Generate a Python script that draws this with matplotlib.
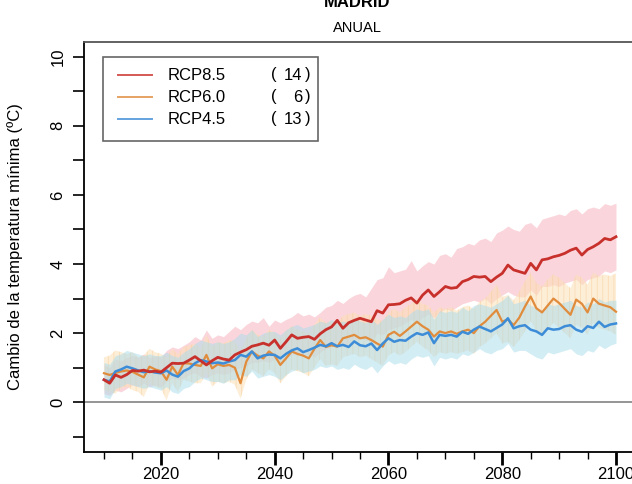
import numpy as np
import matplotlib
matplotlib.use("Agg")
from matplotlib import pyplot as plt
from matplotlib.lines import Line2D
from matplotlib.patches import Rectangle

plt.rcParams['font.family'] = ['Liberation Sans', 'DejaVu Sans']
plt.rcParams['hatch.linewidth'] = 0.6

years = list(range(2010, 2101))

rcp85 = [0.65, 0.55, 0.79, 0.72, 0.80, 0.92, 0.90, 0.93, 0.88, 0.90,
         0.87, 1.00, 1.13, 1.12, 1.13, 1.22, 1.32, 1.20, 1.08, 1.20,
         1.30, 1.25, 1.22, 1.37, 1.45, 1.52, 1.62, 1.66, 1.71, 1.65,
         1.80, 1.56, 1.75, 1.95, 1.85, 1.88, 1.90, 1.82, 1.98, 2.10,
         2.18, 2.37, 2.14, 2.30, 2.37, 2.43, 2.38, 2.33, 2.65, 2.58,
         2.82, 2.83, 2.85, 2.95, 3.02, 2.87, 3.10, 3.25, 3.06, 3.20,
         3.35, 3.30, 3.32, 3.49, 3.55, 3.64, 3.62, 3.64, 3.49, 3.62,
         3.73, 3.97, 3.83, 3.78, 3.73, 4.02, 3.83, 4.12, 4.15, 4.21,
         4.25, 4.31, 4.40, 4.46, 4.26, 4.42, 4.50, 4.60, 4.74, 4.70,
         4.79]
rcp85_hi = [1.10, 1.00, 1.25, 1.20, 1.30, 1.35, 1.30, 1.40, 1.30, 1.35,
            1.30, 1.50, 1.60, 1.55, 1.65, 1.75, 1.90, 1.80, 2.09, 1.85,
            1.95, 1.90, 2.05, 2.20, 2.10, 2.25, 2.35, 2.30, 2.45, 2.20,
            2.38, 2.30, 2.40, 2.47, 2.60, 2.50, 2.55, 2.47, 2.60, 2.75,
            2.80, 2.95, 2.86, 3.00, 3.10, 3.15, 3.05, 3.30, 3.55, 3.60,
            3.92, 3.75, 3.80, 3.85, 4.10, 3.80, 3.95, 4.07, 4.00, 4.25,
            4.30, 4.20, 4.45, 4.50, 4.60, 4.55, 4.70, 4.75, 4.65, 4.90,
            4.98, 5.10, 5.00, 4.95, 5.15, 5.20, 5.05, 5.30, 5.35, 5.40,
            5.45, 5.40, 5.55, 5.60, 5.45, 5.60, 5.65, 5.60, 5.75, 5.70,
            5.76]
rcp85_lo = [0.25, 0.20, 0.35, 0.30, 0.40, 0.50, 0.45, 0.55, 0.45, 0.50,
            0.45, 0.60, 0.70, 0.65, 0.70, 0.80, 0.85, 0.75, 0.70, 0.80,
            0.85, 0.80, 0.85, 0.95, 1.00, 1.05, 1.15, 1.15, 1.20, 1.15,
            1.25, 1.10, 1.25, 1.40, 1.35, 1.35, 1.40, 1.30, 1.45, 1.55,
            1.60, 1.75, 1.60, 1.70, 1.80, 1.85, 1.80, 1.75, 2.00, 1.95,
            2.10, 2.15, 2.20, 2.30, 2.40, 2.30, 2.45, 2.55, 2.45, 2.60,
            2.70, 2.65, 2.75, 2.85, 2.90, 2.95, 2.90, 3.00, 2.85, 3.00,
            3.10, 3.20, 3.10, 3.05, 3.05, 3.25, 3.10, 3.35, 3.35, 3.40,
            3.35, 3.45, 3.50, 3.55, 3.40, 3.55, 3.60, 3.65, 3.80, 3.75,
            3.83]

rcp60 = [0.84, 0.79, 0.85, 0.89, 0.92, 0.88, 0.80, 0.72, 1.03, 0.95,
         0.90, 0.65, 1.03, 0.79, 1.13, 1.12, 1.08, 1.05, 1.37, 0.98,
         1.10, 1.05, 1.08, 1.00, 0.55, 1.17, 1.47, 1.35, 1.27, 1.47,
         1.35, 1.08, 1.27, 1.47, 1.40, 1.35, 1.27, 1.55, 1.80, 1.60,
         1.65, 1.61, 1.85, 1.90, 1.95, 1.85, 1.88, 1.80, 1.70, 1.61,
         1.95, 2.04, 1.92, 2.05, 2.19, 2.33, 2.20, 2.10, 1.90, 2.05,
         2.00, 2.05, 1.98, 2.05, 2.10, 2.00, 2.20, 2.33, 2.50, 2.67,
         2.33, 2.40, 2.23, 2.45, 2.77, 3.06, 2.72, 2.60, 2.80, 3.00,
         2.87, 2.70, 2.53, 2.97, 2.85, 2.60, 3.00, 2.85, 2.80, 2.75,
         2.62]
rcp60_hi = [1.30, 1.35, 1.50, 1.45, 1.40, 1.45, 1.30, 1.35, 1.55, 1.45,
            1.40, 1.30, 1.55, 1.40, 1.60, 1.65, 1.70, 1.55, 1.95, 1.60,
            1.75, 1.70, 1.80, 1.75, 1.50, 1.85, 2.10, 1.95, 1.90, 2.10,
            2.00, 1.85, 2.05, 2.20, 2.10, 2.05, 2.00, 2.25, 2.45, 2.30,
            2.35, 2.30, 2.50, 2.55, 2.60, 2.50, 2.55, 2.50, 2.40, 2.35,
            2.60, 2.70, 2.60, 2.75, 2.85, 3.00, 2.85, 2.80, 2.60, 2.75,
            2.70, 2.75, 2.65, 2.75, 2.80, 2.70, 2.90, 3.00, 3.20, 3.40,
            3.05, 3.10, 2.95, 3.20, 3.50, 3.75, 3.45, 3.35, 3.55, 3.70,
            3.60, 3.45, 3.30, 3.70, 3.60, 3.40, 3.75, 3.65, 3.70, 3.65,
            3.73]
rcp60_lo = [0.35, 0.30, 0.25, 0.40, 0.45, 0.35, 0.30, 0.15, 0.55, 0.45,
            0.40, 0.05, 0.55, 0.30, 0.65, 0.60, 0.55, 0.55, 0.85, 0.45,
            0.60, 0.55, 0.60, 0.50, 0.10, 0.65, 0.95, 0.85, 0.75, 0.95,
            0.85, 0.55, 0.75, 0.95, 0.90, 0.85, 0.75, 1.00, 1.25, 1.05,
            1.10, 1.05, 1.30, 1.35, 1.40, 1.30, 1.35, 1.25, 1.15, 1.05,
            1.35, 1.45, 1.35, 1.45, 1.60, 1.75, 1.60, 1.50, 1.30, 1.45,
            1.40, 1.45, 1.40, 1.45, 1.50, 1.40, 1.60, 1.70, 1.85, 2.00,
            1.70, 1.75, 1.60, 1.80, 2.05, 2.35, 2.05, 1.90, 2.10, 2.30,
            2.15, 2.00, 1.85, 2.25, 2.15, 1.95, 2.30, 2.15, 2.10, 2.05,
            1.95]

rcp45 = [0.65, 0.60, 0.89, 0.95, 1.03, 0.98, 0.92, 0.87, 0.90, 0.86,
         0.84, 0.92, 0.80, 0.74, 0.90, 0.98, 1.13, 1.22, 1.18, 1.13,
         1.15, 1.12, 1.18, 1.22, 1.37, 1.32, 1.47, 1.27, 1.35, 1.38,
         1.37, 1.27, 1.40, 1.50, 1.56, 1.45, 1.51, 1.58, 1.66, 1.62,
         1.71, 1.62, 1.66, 1.60, 1.76, 1.65, 1.62, 1.70, 1.51, 1.70,
         1.85, 1.75, 1.80, 1.78, 1.90, 2.00, 1.95, 2.02, 1.71, 1.95,
         1.92, 1.95, 1.90, 2.04, 1.98, 2.10, 2.19, 2.12, 2.05, 2.15,
         2.25, 2.43, 2.14, 2.20, 2.23, 2.10, 2.05, 1.95, 2.14, 2.10,
         2.12, 2.20, 2.23, 2.10, 2.04, 2.20, 2.15, 2.33, 2.18, 2.25,
         2.28]
rcp45_hi = [1.15, 1.10, 1.35, 1.40, 1.50, 1.45, 1.40, 1.35, 1.40, 1.35,
            1.35, 1.45, 1.35, 1.30, 1.45, 1.55, 1.70, 1.80, 1.75, 1.70,
            1.75, 1.70, 1.75, 1.85, 2.00, 1.95, 2.10, 1.90, 2.00, 2.05,
            2.05, 1.95, 2.10, 2.20, 2.25, 2.15, 2.20, 2.25, 2.35, 2.30,
            2.40, 2.30, 2.35, 2.30, 2.45, 2.35, 2.30, 2.40, 2.25, 2.40,
            2.55, 2.45, 2.50, 2.45, 2.60, 2.70, 2.65, 2.70, 2.40, 2.65,
            2.60, 2.65, 2.60, 2.75, 2.65, 2.80, 2.85, 2.80, 2.75, 2.85,
            2.95, 3.10, 2.85, 2.90, 2.95, 2.80, 2.75, 2.65, 2.85, 2.80,
            2.85, 2.90, 2.95, 2.80, 2.75, 2.90, 2.85, 3.00, 2.90, 2.95,
            2.95]
rcp45_lo = [0.15, 0.10, 0.40, 0.45, 0.55, 0.50, 0.45, 0.40, 0.45, 0.40,
            0.35, 0.45, 0.30, 0.25, 0.40, 0.45, 0.60, 0.70, 0.65, 0.60,
            0.60, 0.55, 0.65, 0.65, 0.80, 0.75, 0.90, 0.70, 0.75, 0.80,
            0.75, 0.65, 0.80, 0.90, 0.95, 0.85, 0.90, 0.95, 1.05, 1.00,
            1.05, 0.95, 1.00, 0.95, 1.10, 1.00, 0.95, 1.05, 0.85, 1.05,
            1.20, 1.10, 1.15, 1.10, 1.25, 1.35, 1.30, 1.35, 1.05, 1.30,
            1.25, 1.30, 1.25, 1.40, 1.35, 1.45, 1.55, 1.45, 1.40, 1.50,
            1.55, 1.70, 1.45, 1.50, 1.50, 1.40, 1.30, 1.25, 1.45, 1.40,
            1.45, 1.50, 1.55, 1.40, 1.35, 1.50, 1.45, 1.65, 1.55, 1.65,
            1.71]

scenarios = ["RCP8.5", "RCP6.0", "RCP4.5"]
n_models = [14, 6, 13]
line_colors = ["#C8302C", "#E08C3C", "#3C8CD8"]

W, H = 632, 484
fig = plt.figure(figsize=(W / 100, H / 100), dpi=100)


def fx(px):
    return px / W


def fy(py):
    return 1 - py / H


ax = fig.add_axes([fx(83.5), fy(452), fx(636.5) - fx(83.5), fy(41.5) - fy(452)])
ax.set_xlim(2006.4, 2103.6)
ax.set_ylim(-1.44, 10.44)

# bandas
ax.fill_between(years, rcp85_lo, rcp85_hi, color="#F7BCC6", alpha=0.6, lw=0)
ax.fill_between(years, rcp60_lo, rcp60_hi, facecolor="#FCE0B8", alpha=0.55,
                edgecolor="#F6CC98", hatch="|||", lw=0)
ax.fill_between(years, rcp45_lo, rcp45_hi, color="#A8DCEC", alpha=0.5, lw=0)

ax.axhline(0, color="#8C8C8C", lw=1.3)

ax.plot(years, rcp60, color=line_colors[1], lw=1.6)
ax.plot(years, rcp45, color=line_colors[2], lw=1.8)
ax.plot(years, rcp85, color=line_colors[0], lw=2.0)

for s in ["top", "left", "bottom", "right"]:
    ax.spines[s].set_linewidth(1.3)
ax.spines["top"].set_color("#555555")

# eje y
ax.set_yticks(list(range(-1, 11)))
ax.set_yticklabels(["" if v % 2 else str(v) for v in range(-1, 11)],
                   rotation=90, va="center", fontsize=12)
ax.tick_params(axis="y", length=8, width=1.2, pad=5)
ax.set_ylabel("Cambio de la temperatura mínima (ºC)", fontsize=12, labelpad=20)

# eje x
ax.set_xticks([2020, 2040, 2060, 2080, 2100])
ax.set_xticklabels(["2020", "2040", "2060", "2080", "2100"], fontsize=12)
ax.set_xticks([2010, 2030, 2050, 2070, 2090] + [y for y in range(2015, 2100, 10)], minor=True)
ax.tick_params(axis="x", which="major", length=9, width=2.0, pad=2)
ax.tick_params(axis="x", which="minor", length=5, width=1.0)

# titulos
fig.text(fx(357), fy(7), "MADRID", ha="center", va="baseline",
         fontsize=12, fontweight="bold")
fig.text(fx(357), fy(27.5), "ANUAL", ha="center", va="center", fontsize=10.5)

# leyenda
fig.patches.append(Rectangle((fx(103), fy(140.5)), fx(318) - fx(103), fy(56.5) - fy(140.5),
                             transform=fig.transFigure, fill=False,
                             edgecolor="#666666", lw=1.2))
rows = [75, 97, 119]
for name, n, c, r in zip(scenarios, n_models, line_colors, rows):
    fig.add_artist(Line2D([fx(118), fx(152)], [fy(r), fy(r)],
                          transform=fig.transFigure, color=c, lw=1.4, alpha=0.8))
    fig.text(fx(168), fy(r), name, ha="left", va="center", fontsize=12)
    fig.text(fx(271), fy(r), "(", ha="left", va="center", fontsize=12)
    fig.text(fx(302), fy(r), str(n), ha="right", va="center", fontsize=12)
    fig.text(fx(311), fy(r), ")", ha="right", va="center", fontsize=12)

fig.savefig("out.png", dpi=100)
